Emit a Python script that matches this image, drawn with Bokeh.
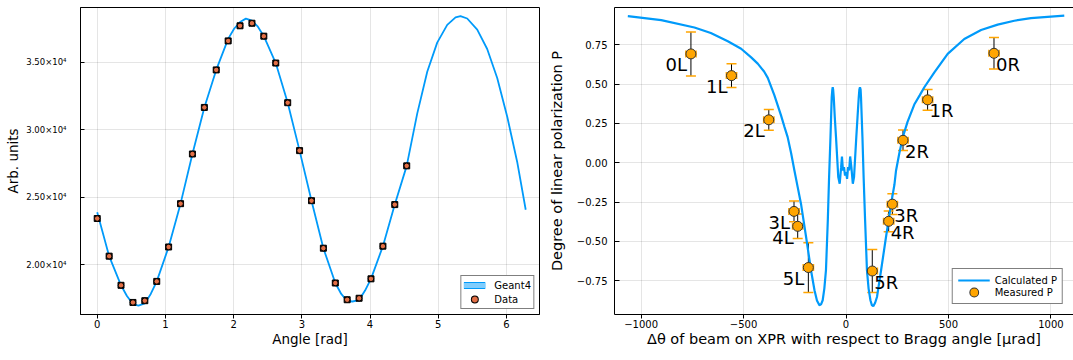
import numpy as np
from bokeh.plotting import figure
from bokeh.models import (ColumnDataSource, Whisker, TeeHead, Legend, LegendItem,
                          LinearAxis, FixedTicker, Range1d)
from bokeh.layouts import row
from bokeh.embed import file_html
from bokeh.resources import INLINE
from bokeh.core.properties import value

FONT = "DejaVu Sans"
BLUE = "#009AFA"
LIGHT_BLUE = "#80CDFD"
RED = "#E26F46"
ORANGE = "#FFA500"

# ---------------- left panel data ----------------
angle_data = [0.000, 0.175, 0.349, 0.524, 0.698, 0.873, 1.047, 1.222, 1.396,
              1.571, 1.745, 1.920, 2.094, 2.269, 2.443, 2.618, 2.793, 2.967,
              3.142, 3.316, 3.491, 3.665, 3.840, 4.014, 4.189, 4.363, 4.538]
counts_data = [23440, 20650, 18490, 17220, 17350, 18780, 21330, 24540, 28220,
               31670, 34450, 36600, 37720, 37910, 36950, 34960, 32020, 28470,
               24760, 21240, 18660, 17420, 17530, 18970, 21390, 24470, 27340]

geant4_angle = [0.000, 0.175, 0.349, 0.436, 0.524, 0.605, 0.698, 0.785, 0.873,
                1.047, 1.222, 1.396, 1.571, 1.745, 1.920, 2.007, 2.094, 2.180,
                2.269, 2.356, 2.443, 2.618, 2.793, 2.967, 3.142, 3.316, 3.491,
                3.578, 3.665, 3.740, 3.840, 3.927, 4.014, 4.189, 4.363, 4.538,
                4.692, 4.839, 4.985, 5.132, 5.254, 5.327, 5.425, 5.572, 5.718,
                5.865, 6.012, 6.158, 6.283]
geant4_counts = [23900, 20650, 18490, 17700, 17100, 16990, 17150, 17850, 18780,
                 21330, 24540, 28220, 31670, 34450, 36750, 37500, 38000, 38250,
                 38100, 37650, 36950, 34960, 32020, 28470, 24760, 21240, 18660,
                 17850, 17330, 17290, 17400, 18100, 18970, 21390, 24470, 27340,
                 31210, 34320, 36470, 37790, 38340, 38440, 38260, 37430, 36000,
                 33850, 30980, 27630, 24090]

left_xticks = [0, 1, 2, 3, 4, 5, 6]
left_yticks = [20000, 25000, 30000, 35000]
left_ytick_labels = ["2.00×10⁴", "2.50×10⁴", "3.00×10⁴", "3.50×10⁴"]

# ---------------- right panel data ----------------
point_labels = ["0L", "1L", "2L", "3L", "4L", "5L", "5R", "4R", "3R", "2R", "1R", "0R"]
delta_theta = [-757, -559, -377, -254, -236, -184, 128, 208, 226, 278, 398, 722]
delta_theta_err = [25, 25, 25, 25, 25, 25, 25, 25, 25, 25, 25, 25]
pol = [0.692, 0.554, 0.273, -0.309, -0.404, -0.666, -0.688, -0.372, -0.263, 0.143, 0.400, 0.696]
pol_err = [0.140, 0.076, 0.066, 0.066, 0.078, 0.158, 0.137, 0.066, 0.066, 0.065, 0.066, 0.100]

calc_theta = [-1065, -902, -740, -660, -577, -512, -463, -431, -400, -382, -350,
              -317, -301, -285, -268, -252, -236, -220, -195, -171, -154, -142,
              -130, -122, -114, -106, -98, -89, -83, -76, -70, -67, -65, -63,
              -60, -55, -49, -38, -31, -24, -20, -15, -10, -5, 0, 5, 10, 15, 20,
              26, 33, 39, 50, 56, 62, 65, 68, 71, 73, 80, 86, 93, 102, 110, 119,
              126, 133, 142, 151, 171, 195, 220, 236, 244, 260, 277, 300, 333,
              360, 382, 431, 496, 577, 659, 740, 821, 902, 1065]
calc_pol = [0.932, 0.907, 0.860, 0.825, 0.772, 0.725, 0.670, 0.630, 0.580, 0.540,
            0.430, 0.300, 0.230, 0.163, 0.060, -0.049, -0.155, -0.260, -0.472,
            -0.683, -0.810, -0.875, -0.905, -0.900, -0.874, -0.800, -0.683,
            -0.366, -0.100, 0.163, 0.416, 0.465, 0.480, 0.465, 0.416, 0.290,
            0.163, -0.091, -0.133, -0.028, 0.040, -0.049, -0.028, -0.081, -0.060,
            -0.102, -0.028, -0.049, 0.040, -0.028, -0.133, -0.091, 0.163, 0.290,
            0.416, 0.465, 0.480, 0.465, 0.416, 0.163, -0.100, -0.366, -0.683,
            -0.800, -0.874, -0.905, -0.912, -0.890, -0.853, -0.683, -0.472,
            -0.260, -0.140, -0.049, 0.060, 0.163, 0.260, 0.370, 0.430, 0.480,
            0.575, 0.692, 0.787, 0.844, 0.878, 0.903, 0.920, 0.935]

right_xticks = [-1000, -500, 0, 500, 1000]
right_xtick_labels = ["−1000", "−500", "0", "500", "1000"]
right_yticks = [-0.75, -0.5, -0.25, 0.0, 0.25, 0.5, 0.75]
right_ytick_labels = ["−0.75", "−0.50", "−0.25", "0.00", "0.25", "0.50", "0.75"]


def style_axes(p, xticks, yticks, label_size):
    for ax in p.xaxis + p.yaxis:
        ax.axis_line_color = "black"
        ax.axis_line_width = 1
        ax.major_tick_line_color = "black"
        ax.minor_tick_in = 0
        ax.minor_tick_out = 0
        ax.major_label_text_font = FONT
        ax.major_label_text_color = "black"
        ax.axis_label_text_font = FONT
        ax.axis_label_text_font_style = "normal"
        ax.axis_label_text_font_size = label_size
        ax.axis_label_text_color = "black"
    p.xaxis.ticker = FixedTicker(ticks=xticks)
    p.yaxis.ticker = FixedTicker(ticks=yticks)
    p.xgrid.ticker = FixedTicker(ticks=xticks)
    p.ygrid.ticker = FixedTicker(ticks=yticks)
    p.grid.grid_line_color = "black"
    p.grid.grid_line_alpha = 0.1
    p.grid.grid_line_width = 1
    p.background_fill_color = "white"
    p.border_fill_color = "white"


def legend_style(**kw):
    base = dict(location="bottom_right", spacing=0, label_height=10, label_width=10,
                label_text_font=FONT, label_text_font_size="10px",
                label_text_color="black",
                border_line_color="black", border_line_width=1,
                background_fill_color="white", background_fill_alpha=1)
    base.update(kw)
    return base


# ---------------- left figure ----------------
p1 = figure(width=545, height=360, output_backend="svg", toolbar_location=None,
            x_range=Range1d(-0.245, 6.485), y_range=Range1d(16327, 39075),
            min_border_left=80, min_border_right=6, min_border_top=0,
            min_border_bottom=42)
p1.outline_line_color = "black"
p1.outline_line_width = 1
style_axes(p1, left_xticks, left_yticks, "13.5px")
p1.xaxis.axis_label = "Angle [rad]"
p1.yaxis.axis_label = "Arb. units"
p1.xaxis.major_tick_out = 4
p1.xaxis.major_tick_in = 0
p1.xaxis.major_label_standoff = 1
p1.xaxis.axis_label_standoff = 0
p1.xaxis.major_label_text_font_size = "10px"
p1.yaxis.major_tick_out = 0
p1.yaxis.major_tick_in = 4
p1.yaxis.major_label_standoff = 14
p1.yaxis.axis_label_standoff = 2
p1.yaxis.major_label_text_font_size = "8.5px"
p1.yaxis.major_label_overrides = dict(zip(left_yticks, left_ytick_labels))

g_src = ColumnDataSource(dict(x=geant4_angle, y=geant4_counts))
p1.line("x", "y", source=g_src, line_color=BLUE, line_width=1.8)

d_src = ColumnDataSource(dict(x=angle_data, y=counts_data))
p1.scatter("x", "y", source=d_src, marker="square", size=6, fill_color="black",
           line_color="black", line_width=1)
p1.scatter("x", "y", source=d_src, marker="circle", size=5.5,
           fill_color=RED, line_color="black", line_width=1)

# legend-only swatches (NaN data: nothing is drawn inside the plot)
swatch = ColumnDataSource(dict(x=np.array([np.nan]), y=np.array([np.nan])))
leg_outer = p1.line("x", "y", source=swatch, line_color=BLUE, line_width=7)
leg_inner = p1.line("x", "y", source=swatch, line_color=LIGHT_BLUE, line_width=5)
leg_dot_k = p1.scatter("x", "y", source=swatch, marker="circle", size=5.6,
                       fill_color="black", line_color="black", line_width=2.4)
leg_dot_c = p1.scatter("x", "y", source=swatch, marker="circle", size=5.6,
                       fill_color=RED, line_color=RED, line_width=0.4)

leg1 = Legend(items=[LegendItem(label="Geant4", renderers=[leg_outer, leg_inner]),
                     LegendItem(label="Data", renderers=[leg_dot_k, leg_dot_c])],
              **legend_style(margin=5, padding=2, glyph_width=22, glyph_height=14,
                             label_standoff=9))
p1.add_layout(leg1)

# ---------------- right figure ----------------
p2 = figure(width=528, height=360, output_backend="svg", toolbar_location=None,
            x_range=Range1d(-1130, 1110), y_range=Range1d(-0.9645, 0.987),
            min_border_left=68, min_border_right=0, min_border_top=7,
            min_border_bottom=46)
p2.outline_line_color = None
style_axes(p2, right_xticks, right_yticks, "14.5px")
p2.xaxis.axis_label = "Δθ of beam on XPR with respect to Bragg angle [μrad]"
p2.yaxis.axis_label = "Degree of linear polarization P"
p2.xaxis.major_tick_out = 4
p2.xaxis.major_tick_in = 0
p2.xaxis.major_label_standoff = 1
p2.xaxis.axis_label_standoff = 0
p2.xaxis.major_label_text_font_size = "10px"
p2.xaxis.major_label_overrides = dict(zip(right_xticks, right_xtick_labels))
p2.yaxis.major_tick_out = 0
p2.yaxis.major_tick_in = 5
p2.yaxis.major_label_standoff = 7
p2.yaxis.axis_label_standoff = 9
p2.yaxis.major_label_text_font_size = "10px"
p2.yaxis.major_label_overrides = dict(zip(right_yticks, right_ytick_labels))

top_ax = LinearAxis(ticker=FixedTicker(ticks=[]), major_tick_in=0, major_tick_out=0,
                    minor_tick_in=0, minor_tick_out=0, axis_line_color="black",
                    major_label_standoff=0)
p2.add_layout(top_ax, "above")

c_src = ColumnDataSource(dict(x=calc_theta, y=calc_pol))
calc_r = p2.line("x", "y", source=c_src, line_color=BLUE, line_width=2.2)

m_src = ColumnDataSource(dict(
    x=delta_theta, y=pol, label=point_labels,
    ylo=[v - e for v, e in zip(pol, pol_err)],
    yhi=[v + e for v, e in zip(pol, pol_err)],
    xlo=[v - e for v, e in zip(delta_theta, delta_theta_err)],
    xhi=[v + e for v, e in zip(delta_theta, delta_theta_err)],
    align=["right" if s.endswith("L") else "left" for s in point_labels],
    xoff=[-4 if s.endswith("L") else 2 for s in point_labels],
))

wy = Whisker(source=m_src, base="x", lower="ylo", upper="yhi", dimension="height",
             line_color="black", line_width=1, level="underlay",
             upper_head=TeeHead(size=10, line_color=ORANGE, line_width=1.5),
             lower_head=TeeHead(size=10, line_color=ORANGE, line_width=1.5))
wx = Whisker(source=m_src, base="y", lower="xlo", upper="xhi", dimension="width",
             line_color=ORANGE, line_width=1.5, level="underlay",
             upper_head=TeeHead(size=7, line_color=ORANGE, line_width=1.5),
             lower_head=TeeHead(size=7, line_color=ORANGE, line_width=1.5))
p2.add_layout(wy)
p2.add_layout(wx)

p2.scatter("x", "y", source=m_src, marker="circle", size=10,
           fill_color=ORANGE, line_color="#333333", line_width=1)
p2.text("x", "y", text="label", source=m_src, text_font=value(FONT),
        text_font_size="18px", text_color="black", text_align="align",
        text_baseline="middle", x_offset="xoff", y_offset=11)

swatch2 = ColumnDataSource(dict(x=np.array([np.nan]), y=np.array([np.nan])))
leg2_dot_k = p2.scatter("x", "y", source=swatch2, marker="circle", size=4.8,
                        fill_color="#333333", line_color="#333333", line_width=5)
leg2_dot_c = p2.scatter("x", "y", source=swatch2, marker="circle", size=4.8,
                        fill_color=ORANGE, line_color=ORANGE, line_width=3)

leg2 = Legend(items=[LegendItem(label="Calculated P", renderers=[calc_r]),
                     LegendItem(label="Measured P", renderers=[leg2_dot_k, leg2_dot_c])],
              **legend_style(margin=10, padding=5, glyph_width=32, glyph_height=12,
                             label_standoff=5))
p2.add_layout(leg2)

layout = row(p1, p2)
open("out.html", "w").write(file_html(layout, INLINE))
